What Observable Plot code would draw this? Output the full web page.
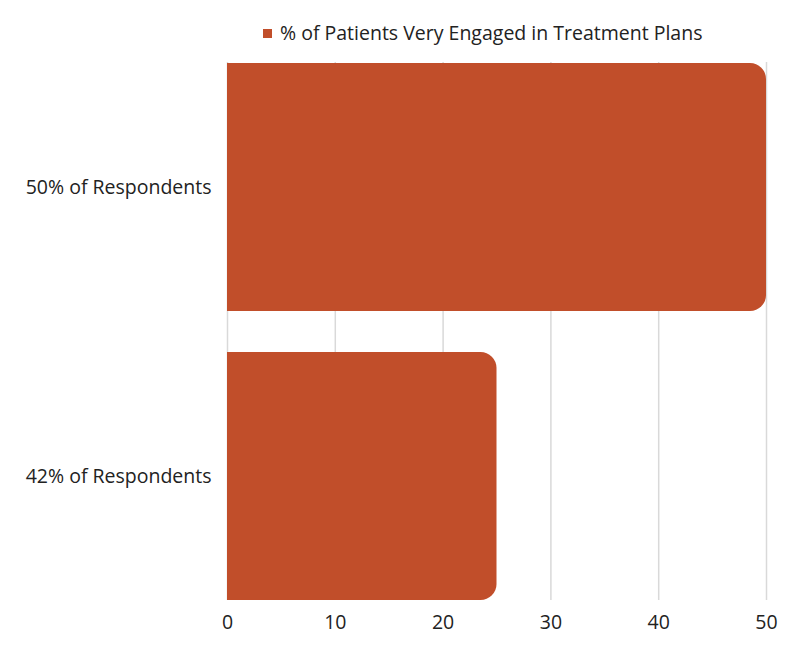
<!DOCTYPE html>
<html>
<head>
<meta charset="utf-8">
<script src="https://cdn.jsdelivr.net/npm/d3@7"></script>
<script src="https://cdn.jsdelivr.net/npm/@observablehq/plot@0.6"></script>
<style>
  body { margin: 0; background: #fff; font-family: "Open Sans", sans-serif; }
  #legend { height: 50px; position: relative; }
  #legend .sw { position: absolute; left: 263px; top: 29px; width: 9px; height: 9px; background: #C14E2A; }
  #legend .tx { position: absolute; left: 280px; top: 19px; font-size: 19.5px; color: #222; line-height: 28px; white-space: nowrap; }
</style>
</head>
<body>
<div id="legend"><span class="sw"></span><span class="tx"></span></div>
<div id="chart"></div>
<script>
const seriesName = "% of Patients Very Engaged in Treatment Plans";
const categories = ["50% of Respondents", "42% of Respondents"];
const values = [50, 25];
const xTicks = [0, 10, 20, 30, 40, 50];
const barColor = "#C14E2A";

document.querySelector("#legend .tx").textContent = seriesName;

const data = categories.map((c, i) => ({category: c, value: values[i]}));

const chart = Plot.plot({
  width: 802,
  height: 604,
  marginTop: 12,
  marginBottom: 54,
  marginLeft: 227,
  marginRight: 36,
  style: {fontFamily: "Open Sans, sans-serif", fontSize: "19.5px", color: "#222", background: "#fff"},
  x: {domain: [0, 50], ticks: xTicks, label: null},
  y: {domain: categories, paddingInner: 0.142, paddingOuter: 0, label: null},
  marks: [
    Plot.gridX(xTicks, {stroke: "#d9d9d9", strokeOpacity: 1, strokeWidth: 1.5}),
    Plot.barX(data, {x: "value", y: "category", fill: barColor, rx: 16}),
    Plot.barX(data, {x: "value", y: "category", fill: barColor, insetRight: 20}),
    Plot.axisX(xTicks, {tickSize: 0, tickPadding: 15, fontSize: 19.5, fill: "#222"}),
    Plot.axisY({tickSize: 0, tickPadding: 16, fontSize: 19.5, fill: "#222"})
  ]
});
document.getElementById("chart").appendChild(chart);
</script>
</body>
</html>
